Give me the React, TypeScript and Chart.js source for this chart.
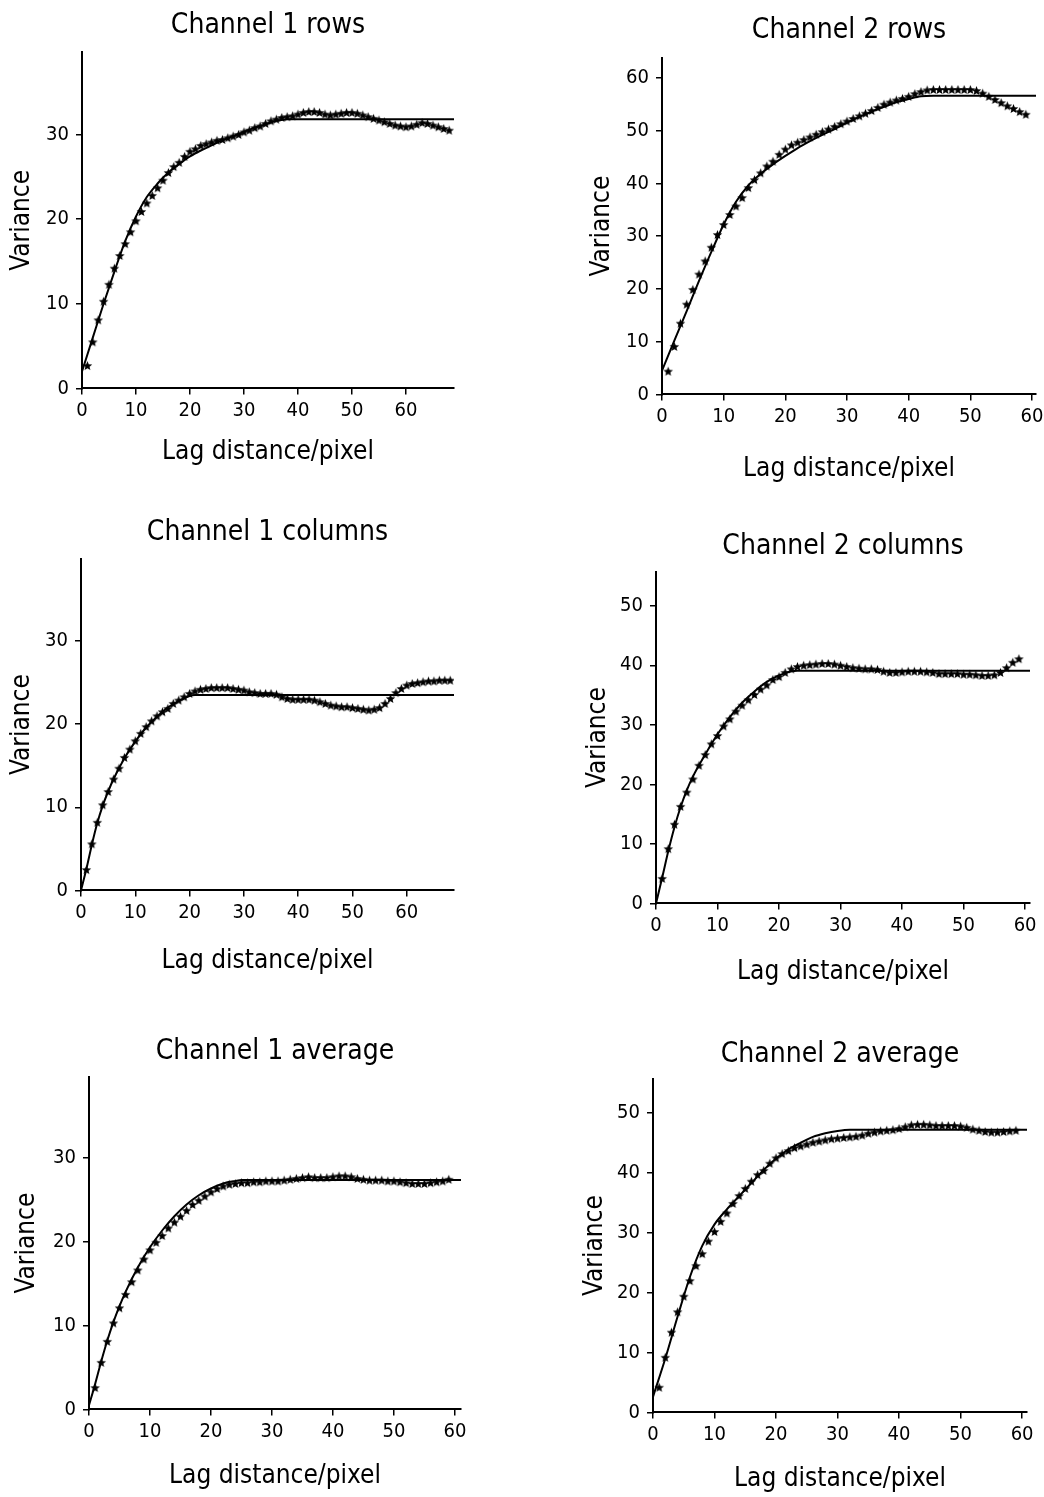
import React, { useEffect, useRef } from 'react';
import { Chart, registerables } from 'chart.js';

Chart.register(...registerables);

// ---------- Data ----------
const LAGS_68 = [
  1, 2, 3, 4, 5, 6, 7, 8, 9, 10, 11, 12, 13, 14, 15, 16, 17, 18, 19, 20,
  21, 22, 23, 24, 25, 26, 27, 28, 29, 30, 31, 32, 33, 34, 35, 36, 37, 38, 39, 40,
  41, 42, 43, 44, 45, 46, 47, 48, 49, 50, 51, 52, 53, 54, 55, 56, 57, 58, 59, 60,
  61, 62, 63, 64, 65, 66, 67, 68,
];
const LAGS_59 = [
  1, 2, 3, 4, 5, 6, 7, 8, 9, 10, 11, 12, 13, 14, 15, 16, 17, 18, 19, 20,
  21, 22, 23, 24, 25, 26, 27, 28, 29, 30, 31, 32, 33, 34, 35, 36, 37, 38, 39, 40,
  41, 42, 43, 44, 45, 46, 47, 48, 49, 50, 51, 52, 53, 54, 55, 56, 57, 58, 59,
];

const X_TICKS = [0, 10, 20, 30, 40, 50, 60];

// Channel 1 rows
const CH1_ROWS_VAR = [
  2.7, 5.5, 8.1, 10.3, 12.3, 14.2, 15.7, 17.1, 18.5, 19.8,
  20.9, 21.9, 22.8, 23.7, 24.6, 25.5, 26.2, 26.7, 27.4, 28.0,
  28.3, 28.7, 28.9, 29.1, 29.3, 29.4, 29.6, 29.8, 30.0, 30.3,
  30.5, 30.8, 31.0, 31.3, 31.6, 31.8, 32.0, 32.1, 32.2, 32.4,
  32.6, 32.7, 32.7, 32.6, 32.4, 32.3, 32.4, 32.5, 32.6, 32.6,
  32.5, 32.3, 32.1, 31.9, 31.7, 31.5, 31.3, 31.1, 31.0, 30.9,
  31.0, 31.2, 31.4, 31.3, 31.1, 30.9, 30.7, 30.5,
];
const CH1_ROWS_MODEL_LAG = [0, 2, 4, 6, 8, 10, 12, 14, 16, 18, 20, 22, 24, 26, 28, 30, 32, 34, 36, 38, 69];
const CH1_ROWS_MODEL = [2.0, 6.0, 10.0, 13.8, 17.4, 20.3, 22.6, 24.2, 25.5, 26.5, 27.4, 28.1, 28.7, 29.3, 29.8, 30.3, 30.8, 31.2, 31.6, 31.8, 31.8];

// Channel 2 rows
const CH2_ROWS_VAR = [
  4.4, 9.1, 13.5, 17.1, 19.9, 22.8, 25.3, 27.9, 30.3, 32.2,
  34.1, 35.7, 37.3, 39.2, 40.7, 42.0, 43.3, 44.2, 45.5, 46.5,
  47.3, 47.8, 48.3, 48.8, 49.3, 49.8, 50.3, 50.8, 51.3, 51.8,
  52.3, 52.8, 53.3, 53.8, 54.4, 55.0, 55.4, 55.8, 56.1, 56.5,
  57.0, 57.4, 57.7, 57.8, 57.8, 57.8, 57.8, 57.8, 57.8, 57.8,
  57.6, 57.1, 56.5, 55.9, 55.3, 54.7, 54.2, 53.6, 53.1,
];
const CH2_ROWS_MODEL_LAG = [0, 2, 4, 6, 8, 10, 12, 14, 16, 18, 20, 22, 24, 26, 28, 30, 32, 34, 36, 38, 40, 42, 44, 61];
const CH2_ROWS_MODEL = [4.5, 10.2, 15.8, 21.5, 27.0, 32.2, 36.5, 39.6, 41.8, 43.6, 45.2, 46.7, 48.0, 49.2, 50.3, 51.5, 52.6, 53.6, 54.5, 55.4, 56.0, 56.5, 56.6, 56.6];

// Channel 1 columns
const CH1_COLS_VAR = [
  2.5, 5.6, 8.2, 10.3, 11.9, 13.4, 14.7, 16.0, 17.0, 18.0,
  18.9, 19.7, 20.4, 21.0, 21.5, 21.9, 22.5, 22.9, 23.3, 23.7,
  24.0, 24.2, 24.3, 24.4, 24.4, 24.4, 24.4, 24.3, 24.2, 24.1,
  23.9, 23.8, 23.7, 23.7, 23.7, 23.6, 23.3, 23.1, 23.0, 23.0,
  23.0, 23.0, 22.9, 22.7, 22.5, 22.3, 22.2, 22.1, 22.1, 22.0,
  21.9, 21.8, 21.7, 21.8, 22.0, 22.5, 23.1, 23.8, 24.3, 24.7,
  24.9, 25.0, 25.1, 25.2, 25.2, 25.3, 25.3, 25.3,
];
const CH1_COLS_MODEL_LAG = [0, 1, 2, 3, 4, 5, 6, 8, 10, 12, 14, 16, 18, 20, 21, 69];
const CH1_COLS_MODEL = [0, 2.6, 5.5, 8.1, 10.2, 11.9, 13.4, 15.9, 17.9, 19.6, 20.9, 22.0, 22.8, 23.4, 23.5, 23.5];

// Channel 2 columns
const CH2_COLS_VAR = [
  4.2, 9.2, 13.3, 16.3, 18.7, 20.9, 23.2, 25.0, 26.8, 28.2,
  29.8, 31.0, 32.3, 33.3, 34.2, 35.1, 36.0, 36.7, 37.6, 38.1,
  38.8, 39.4, 39.8, 40.0, 40.1, 40.2, 40.3, 40.3, 40.2, 40.0,
  39.8, 39.6, 39.5, 39.4, 39.4, 39.3, 39.0, 38.8, 38.8, 38.9,
  39.0, 39.0, 39.0, 38.9, 38.8, 38.6, 38.6, 38.6, 38.6, 38.5,
  38.5, 38.4, 38.3, 38.3, 38.4, 38.8, 39.6, 40.5, 41.1,
];
const CH2_COLS_MODEL_LAG = [0, 1, 2, 3, 4, 5, 6, 8, 10, 12, 14, 16, 18, 20, 22, 23, 61];
const CH2_COLS_MODEL = [0, 4.3, 8.8, 12.8, 16.2, 19.0, 21.3, 25.0, 28.4, 31.3, 33.7, 35.6, 37.2, 38.3, 39.0, 39.1, 39.1];

// Channel 1 average
const CH1_AVG_VAR = [
  2.6, 5.6, 8.1, 10.3, 12.1, 13.7, 15.2, 16.6, 17.9, 19.0,
  19.9, 20.7, 21.6, 22.3, 23.0, 23.7, 24.4, 24.9, 25.4, 25.9,
  26.3, 26.6, 26.8, 26.9, 27.0, 27.0, 27.1, 27.1, 27.2, 27.2,
  27.2, 27.3, 27.4, 27.5, 27.6, 27.7, 27.6, 27.6, 27.6, 27.7,
  27.8, 27.8, 27.7, 27.5, 27.4, 27.3, 27.3, 27.3, 27.2, 27.2,
  27.1, 27.0, 26.9, 26.9, 26.9, 27.0, 27.1, 27.2, 27.4,
];
const CH1_AVG_MODEL_LAG = [0, 1, 2, 3, 4, 5, 6, 8, 10, 12, 14, 16, 18, 20, 22, 24, 25, 61];
const CH1_AVG_MODEL = [0.5, 3.0, 5.7, 8.2, 10.4, 12.3, 14.0, 16.9, 19.3, 21.3, 23.0, 24.4, 25.5, 26.3, 26.9, 27.2, 27.3, 27.3];

// Channel 2 average
const CH2_AVG_VAR = [
  4.2, 9.2, 13.4, 16.8, 19.4, 22.0, 24.5, 26.5, 28.6, 30.2,
  31.9, 33.3, 34.9, 36.2, 37.4, 38.6, 39.7, 40.4, 41.6, 42.5,
  43.2, 43.7, 44.2, 44.5, 44.8, 45.1, 45.3, 45.5, 45.7, 45.8,
  45.9, 46.0, 46.1, 46.3, 46.6, 46.8, 47.0, 47.1, 47.2, 47.4,
  47.7, 48.0, 48.1, 48.1, 48.0, 47.9, 47.9, 47.9, 47.9, 47.8,
  47.6, 47.3, 47.1, 46.9, 46.8, 46.8, 46.9, 47.0, 47.1,
];
const CH2_AVG_MODEL_LAG = [0, 2, 4, 6, 8, 10, 12, 14, 16, 18, 20, 22, 24, 26, 28, 30, 32, 61];
const CH2_AVG_MODEL = [2.6, 9.0, 16.0, 22.6, 27.8, 31.4, 33.9, 36.1, 38.3, 40.5, 42.4, 43.9, 45.0, 46.0, 46.6, 47.0, 47.2, 47.2];

const TITLES = [
  'Channel 1 rows',
  'Channel 2 rows',
  'Channel 1 columns',
  'Channel 2 columns',
  'Channel 1 average',
  'Channel 2 average',
];
const X_TITLE = 'Lag distance/pixel';
const Y_TITLE = 'Variance';

// ---------- Layout / style ----------
const FONT = "'Liberation Sans Narrow', 'DejaVu Sans Condensed', 'Arial Narrow', sans-serif";
const TITLE_SIZE = 28;
const AXIS_SIZE = 26;
const TICK_SIZE = 20;
const Y_W = 80;
const PAD_R = 12;

type PanelCfg = {
  title: string;
  lags: number[];
  stars: number[];
  modelLag: number[];
  model: number[];
  xMax: number;
  yMax: number;
  L: number; T: number; R: number; B: number;
  titleGap: number;
  varOff: number;
  xMid: number;
};

const PANELS: PanelCfg[] = [
  { title: TITLES[0], lags: LAGS_68, stars: CH1_ROWS_VAR, modelLag: CH1_ROWS_MODEL_LAG, model: CH1_ROWS_MODEL,
    xMax: 68.9, yMax: 39.7, L: 82, T: 52, R: 454, B: 388, titleGap: 26.5, varOff: 20, xMid: 452 },
  { title: TITLES[1], lags: LAGS_59, stars: CH2_ROWS_VAR, modelLag: CH2_ROWS_MODEL_LAG, model: CH2_ROWS_MODEL,
    xMax: 60.65, yMax: 63.8, L: 662, T: 58, R: 1036, B: 395, titleGap: 27, varOff: 20, xMid: 470 },
  { title: TITLES[2], lags: LAGS_68, stars: CH1_COLS_VAR, modelLag: CH1_COLS_MODEL_LAG, model: CH1_COLS_MODEL,
    xMax: 68.7, yMax: 39.9, L: 81, T: 559, R: 454, B: 891, titleGap: 26, varOff: 21, xMid: 962 },
  { title: TITLES[3], lags: LAGS_59, stars: CH2_COLS_VAR, modelLag: CH2_COLS_MODEL_LAG, model: CH2_COLS_MODEL,
    xMax: 60.8, yMax: 55.7, L: 656, T: 572, R: 1030, B: 904, titleGap: 25, varOff: 22, xMid: 973 },
  { title: TITLES[4], lags: LAGS_59, stars: CH1_AVG_VAR, modelLag: CH1_AVG_MODEL_LAG, model: CH1_AVG_MODEL,
    xMax: 61.0, yMax: 39.6, L: 89, T: 1077, R: 461, B: 1410, titleGap: 25, varOff: 18, xMid: 1477 },
  { title: TITLES[5], lags: LAGS_59, stars: CH2_AVG_VAR, modelLag: CH2_AVG_MODEL_LAG, model: CH2_AVG_MODEL,
    xMax: 60.8, yMax: 55.7, L: 653, T: 1079, R: 1027, B: 1413, titleGap: 24, varOff: 22, xMid: 1480 },
];

let STAR_IMG: HTMLCanvasElement | null = null;
function starImage(): HTMLCanvasElement {
  if (STAR_IMG) return STAR_IMG;
  const c = document.createElement('canvas');
  c.width = 11;
  c.height = 11;
  const g = c.getContext('2d')!;
  g.fillStyle = '#000';
  g.beginPath();
  for (let i = 0; i < 10; i++) {
    const r = i % 2 === 0 ? 5 : 2.2;
    const a = -Math.PI / 2 + (i * Math.PI) / 5;
    const px = 5.5 + r * Math.cos(a);
    const py = 6 + r * Math.sin(a);
    if (i === 0) g.moveTo(px, py);
    else g.lineTo(px, py);
  }
  g.closePath();
  g.fill();
  STAR_IMG = c;
  return c;
}

function Panel({ cfg }: { cfg: PanelCfg }) {
  const ref = useRef<HTMLCanvasElement>(null);
  const tLH = TITLE_SIZE * 1.2;
  const aLH = AXIS_SIZE * 1.2;
  const titlePT = 2;
  const titlePB = cfg.titleGap - tLH / 2;
  const titleH = titlePT + tLH + titlePB;
  const xH = cfg.xMid - cfg.B + aLH / 2;
  const width = Math.round(Y_W + (cfg.R - cfg.L) + PAD_R);
  const height = Math.round(titleH + (cfg.B - cfg.T) + xH);
  const left = cfg.L - Y_W;
  const top = Math.round(cfg.T - titleH);

  useEffect(() => {
    const canvas = ref.current;
    if (!canvas) return;
    const axisFont = { family: FONT, size: AXIS_SIZE, weight: 'normal' as const, lineHeight: 1.2 };
    const tickFont = { family: FONT, size: TICK_SIZE, weight: 'normal' as const };
    const chart = new Chart(canvas, {
      type: 'scatter',
      data: {
        datasets: [
          {
            label: 'Model',
            data: cfg.modelLag.map((x, i) => ({ x, y: cfg.model[i] })),
            showLine: true,
            borderColor: '#000',
            backgroundColor: '#000',
            borderWidth: 2,
            pointRadius: 0,
            cubicInterpolationMode: 'monotone',
            fill: false,
            order: 1,
          } as any,
          {
            label: 'Experimental',
            data: cfg.lags.map((x, i) => ({ x, y: cfg.stars[i] })),
            showLine: false,
            pointStyle: starImage(),
            pointRadius: 5,
            borderColor: '#000',
            backgroundColor: '#000',
            order: 0,
          } as any,
        ],
      },
      options: {
        responsive: false,
        animation: false,
        devicePixelRatio: 1,
        layout: { padding: { left: 0, right: PAD_R, top: 0, bottom: 0 } },
        plugins: {
          legend: { display: false },
          tooltip: { enabled: false },
          title: {
            display: true,
            text: cfg.title,
            fullSize: false,
            color: '#000',
            font: { family: FONT, size: TITLE_SIZE, weight: 'normal', lineHeight: 1.2 },
            padding: { top: titlePT, bottom: titlePB },
          },
        },
        scales: {
          x: {
            type: 'linear',
            min: 0,
            max: cfg.xMax,
            afterFit: (s: any) => { s.height = xH; },
            afterBuildTicks: (s: any) => { s.ticks = X_TICKS.filter((v) => v <= cfg.xMax).map((v) => ({ value: v })); },
            ticks: { stepSize: 10, includeBounds: false, color: '#000', font: tickFont, padding: 4, maxRotation: 0, autoSkip: false },
            grid: { display: true, drawOnChartArea: false, drawTicks: true, tickLength: 6, color: '#000', lineWidth: 1.5 },
            border: { display: true, color: '#000', width: 2 },
            title: { display: true, text: X_TITLE, color: '#000', font: axisFont, padding: { top: 0, bottom: 0 } },
          },
          y: {
            type: 'linear',
            min: 0,
            max: cfg.yMax,
            afterFit: (s: any) => { s.width = Y_W; },
            ticks: { stepSize: 10, includeBounds: false, color: '#000', font: tickFont, padding: 7 },
            grid: { display: true, drawOnChartArea: false, drawTicks: true, tickLength: 6, color: '#000', lineWidth: 1.5 },
            border: { display: true, color: '#000', width: 2 },
            title: { display: true, text: Y_TITLE, color: '#000', font: axisFont, padding: { top: cfg.varOff - aLH / 2, bottom: 0 } },
          },
        },
      } as any,
    });
    return () => chart.destroy();
  }, [cfg]);

  return (
    <canvas
      ref={ref}
      width={width}
      height={height}
      style={{ position: 'absolute', left, top, width, height }}
    />
  );
}

export default function App() {
  return (
    <div
      style={{
        position: 'absolute',
        left: 0,
        top: 0,
        width: 1044,
        height: 1497,
        overflow: 'hidden',
        background: '#fff',
      }}
    >
      {PANELS.map((p) => (
        <Panel key={p.title} cfg={p} />
      ))}
    </div>
  );
}
